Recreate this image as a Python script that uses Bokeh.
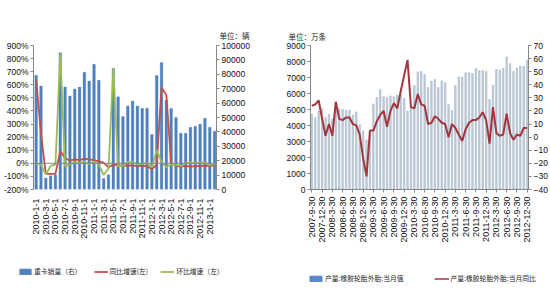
import math
from bokeh.plotting import figure
from bokeh.models import (Range1d, LinearAxis, FixedTicker, PrintfTickFormatter,
                          NumeralTickFormatter, Span, Legend, LegendItem, Title)
from bokeh.layouts import row, column
from bokeh.embed import file_html
from bokeh.resources import INLINE

# ---------------- left chart: heavy truck sales ----------------
truck_tick_labels = ["2010-1-1", "2010-3-1", "2010-5-1", "2010-7-1", "2010-9-1", "2010-11-1",
                     "2011-1-1", "2011-3-1", "2011-5-1", "2011-7-1", "2011-9-1", "2011-11-1",
                     "2012-1-1", "2012-3-1", "2012-5-1", "2012-7-1", "2012-9-1", "2012-11-1",
                     "2013-1-1"]
truck_sales = [79300, 71800, 8000, 9500, 10100, 95000, 71200, 65000, 69800, 71200,
               81400, 75300, 86900, 75900, 7600, 10200, 84100, 64400, 50700, 58000,
               61400, 58000, 56400, 56400, 38200, 79100, 88200, 62000, 56200, 50000,
               39100, 39100, 43200, 43900, 45300, 49400, 43200, 40500]
truck_yoy = [640, 230, -80, -80, -80, 95, 40, 20, 30, 25,
             35, 30, 25, 15, 5, -30, -10, -15, -20, -15,
             -18, -20, -20, -22, -45, -10, 580, 520, 0, -20,
             -25, -20, -25, -22, -20, -18, -20, -15]
truck_mom = [0, -10, -85, -20, -10, 840, -25, -8, 7, 2,
             14, -7, 15, -12, -88, -40, 720, -25, -18, 10,
             7, -7, -3, 0, -30, 100, 10, -30, -8, -12,
             -20, 0, 10, 2, 5, 8, -12, -6]

# ---------------- right chart: tyre output ----------------
tire_tick_labels = ["2007-9-30", "2007-12-30", "2008-3-30", "2008-6-30", "2008-9-30", "2008-12-30",
                    "2009-3-30", "2009-6-30", "2009-9-30", "2009-12-30", "2010-3-30", "2010-6-30",
                    "2010-9-30", "2010-12-30", "2011-3-30", "2011-6-30", "2011-9-30", "2011-12-30",
                    "2012-3-30", "2012-6-30", "2012-9-30", "2012-12-30"]
tire_output = [4700, 4500, 4900, 5050, 4500, 4700, 4400, 5100, 5050, 5000,
               4950, 4950, 4650, 4850, 4050, 3650, 3100, 3600, 5350, 5750,
               6250, 5800, 5750, 5850, 5800, 5900, 5950, 5700, 4900, 5200,
               6500, 7350, 7380, 7180, 6370, 6780, 6870, 6370, 6780, 6670,
               5300, 4950, 6500, 7030, 7030, 7300, 7300, 7240, 7580, 7430,
               7430, 7380, 5620, 6520, 7500, 7450, 7560, 8290, 7860, 7380,
               7580, 7700, 7700, 8090]
tire_yoy = [24, 25, 28, 14, 1, 10, 1, 27, 14, 13,
            15, 15, 10, 9, 2, -16, -30, 5, 5, 12,
            17, 20, 8, 20, 26, 22, 35, 47, 59, 23,
            22, 33, 25, 24, 10, 11, 16, 14, 11, 10,
            0, 10, 7, 2, -3, 6, 11, 13, 13, 15,
            19, 13, -5, 23, 3, 1, 2, 18, 3, -2,
            2, 1, 7, 7]

CJK = "Noto Sans CJK SC"
NUM = "Liberation Sans"
AX = "#868686"
TRUCK_BAR = "#4F81BD"
TRUCK_YOY = "#C0504D"
TRUCK_MOM = "#9BBB59"
TIRE_FILL = "#C3CEDB"
TIRE_EDGE = "#9CAEC3"
TIRE_LINE = "#A3353D"


def style_axis(ax, size="8.5px"):
    ax.axis_line_color = AX
    ax.major_tick_line_color = AX
    ax.minor_tick_line_color = None
    ax.major_label_text_font = NUM
    ax.major_label_text_font_size = size
    ax.major_label_text_color = "#111111"
    ax.major_label_standoff = 2
    ax.major_tick_out = 3
    ax.major_tick_in = 0


def legend_fig():
    # legend strip: its ranges lie away from the data, so only the legend shows
    f = figure(width=275, height=38, output_backend="svg", toolbar_location=None,
               x_range=Range1d(-1000, -999), y_range=Range1d(-1000, -999),
               x_axis_location=None, y_axis_location=None, min_border=0)
    f.outline_line_color = None
    f.xgrid.visible = False
    f.ygrid.visible = False
    return f


# ================= left figure =================
tx = list(range(len(truck_sales)))
p1 = figure(width=275, height=262, output_backend="svg", toolbar_location=None,
            x_range=Range1d(-0.55, 37.4), y_range=Range1d(-200, 900),
            min_border_left=28, min_border_right=59, min_border_top=43, min_border_bottom=73)
p1.extra_y_ranges = {"sales": Range1d(0, 100000)}
p1.outline_line_color = None
p1.xgrid.visible = False
p1.ygrid.visible = False

p1.vbar(x=tx, top=truck_sales, width=0.55, y_range_name="sales",
        fill_color=TRUCK_BAR, line_color=TRUCK_BAR, line_width=0.3)
p1.add_layout(Span(location=0, dimension="width", line_color=AX, line_width=1))
p1.line(tx, truck_yoy, line_color=TRUCK_YOY, line_width=1.8)
p1.line(tx, truck_mom, line_color=TRUCK_MOM, line_width=1.8)

ly = p1.yaxis[0]
ly.ticker = FixedTicker(ticks=list(range(-200, 901, 100)))
ly.formatter = PrintfTickFormatter(format="%d%%")
style_axis(ly)

ry = LinearAxis(y_range_name="sales", ticker=FixedTicker(ticks=list(range(0, 100001, 10000))),
                formatter=NumeralTickFormatter(format="0"))
style_axis(ry)
p1.add_layout(ry, "right")

bx = p1.xaxis[0]
bx.ticker = FixedTicker(ticks=list(range(0, 37, 2)))
bx.major_label_overrides = {i * 2: lab for i, lab in enumerate(truck_tick_labels)}
bx.major_label_orientation = math.pi / 2
style_axis(bx, "9px")
bx.axis_line_color = None
bx.major_tick_line_color = None
bx.major_label_standoff = 6

p1.add_layout(Title(text="单位：辆", align="left", offset=186, standoff=9,
                    text_font=CJK, text_font_size="7.5px", text_font_style="normal",
                    text_color="#222222"), "above")

# legend strip for left chart
l1 = legend_fig()
r_b1 = l1.vbar(x=tx, top=truck_sales, width=0.5, fill_color=TRUCK_BAR, line_color=TRUCK_BAR)
r_y1 = l1.line(tx, truck_yoy, line_color=TRUCK_YOY, line_width=1.8)
r_m1 = l1.line(tx, truck_mom, line_color=TRUCK_MOM, line_width=1.8)
l1.add_layout(Legend(items=[LegendItem(label="重卡销量（右）", renderers=[r_b1]),
                            LegendItem(label="同比增速(左)", renderers=[r_y1]),
                            LegendItem(label="环比增速（左）", renderers=[r_m1])],
                     orientation="horizontal", location=(18, 24),
                     border_line_color=None, background_fill_alpha=0,
                     label_text_font=CJK, label_text_font_size="6.8px",
                     label_text_color="#222222",
                     glyph_width=14, glyph_height=7, spacing=12, padding=0, margin=0,
                     label_standoff=2, label_height=8))

# ================= right figure =================
rx = list(range(len(tire_output)))
p2 = figure(width=275, height=262, output_backend="svg", toolbar_location=None,
            x_range=Range1d(-0.4, 63.4), y_range=Range1d(0, 9000),
            min_border_left=35, min_border_right=18, min_border_top=45, min_border_bottom=69)
p2.extra_y_ranges = {"pct": Range1d(-40, 70)}
p2.outline_line_color = None
p2.xgrid.visible = False
p2.ygrid.visible = False

p2.vbar(x=rx, top=tire_output, width=0.45, fill_color=TIRE_FILL,
        line_color=TIRE_EDGE, line_width=0.5)
p2.line(rx, tire_yoy, y_range_name="pct", line_color=TIRE_LINE, line_width=2)

ly2 = p2.yaxis[0]
ly2.ticker = FixedTicker(ticks=list(range(0, 9001, 1000)))
ly2.formatter = NumeralTickFormatter(format="0")
style_axis(ly2)

ry2 = LinearAxis(y_range_name="pct", ticker=FixedTicker(ticks=list(range(-40, 71, 10))))
style_axis(ry2)
p2.add_layout(ry2, "right")

bx2 = p2.xaxis[0]
bx2.ticker = FixedTicker(ticks=list(range(0, 64, 3)))
bx2.major_label_overrides = {i * 3: lab for i, lab in enumerate(tire_tick_labels)}
bx2.major_label_orientation = math.pi / 2
style_axis(bx2, "9px")
bx2.major_label_standoff = 4

p2.add_layout(Title(text="单位：万条", align="left", offset=-22, standoff=7,
                    text_font=CJK, text_font_size="7.5px", text_font_style="normal",
                    text_color="#222222"), "above")

# legend strip for right chart
l2 = legend_fig()
r_b2 = l2.vbar(x=rx, top=tire_output, width=0.5, fill_color="#5B87C5", line_color="#5B87C5")
r_y2 = l2.line(rx, tire_yoy, line_color=TIRE_LINE, line_width=1.5)
l2.add_layout(Legend(items=[LegendItem(label="产量:橡胶轮胎外胎:当月值", renderers=[r_b2]),
                            LegendItem(label="产量:橡胶轮胎外胎:当月同比", renderers=[r_y2])],
                     orientation="horizontal", location=(33, 17),
                     border_line_color=None, background_fill_alpha=0,
                     label_text_font=CJK, label_text_font_size="6.8px",
                     label_text_color="#222222",
                     glyph_width=15, glyph_height=7, spacing=30, padding=0, margin=0,
                     label_standoff=2, label_height=8))

layout = column(row(p1, p2), row(l1, l2))
open("out.html", "w").write(file_html(layout, INLINE))
